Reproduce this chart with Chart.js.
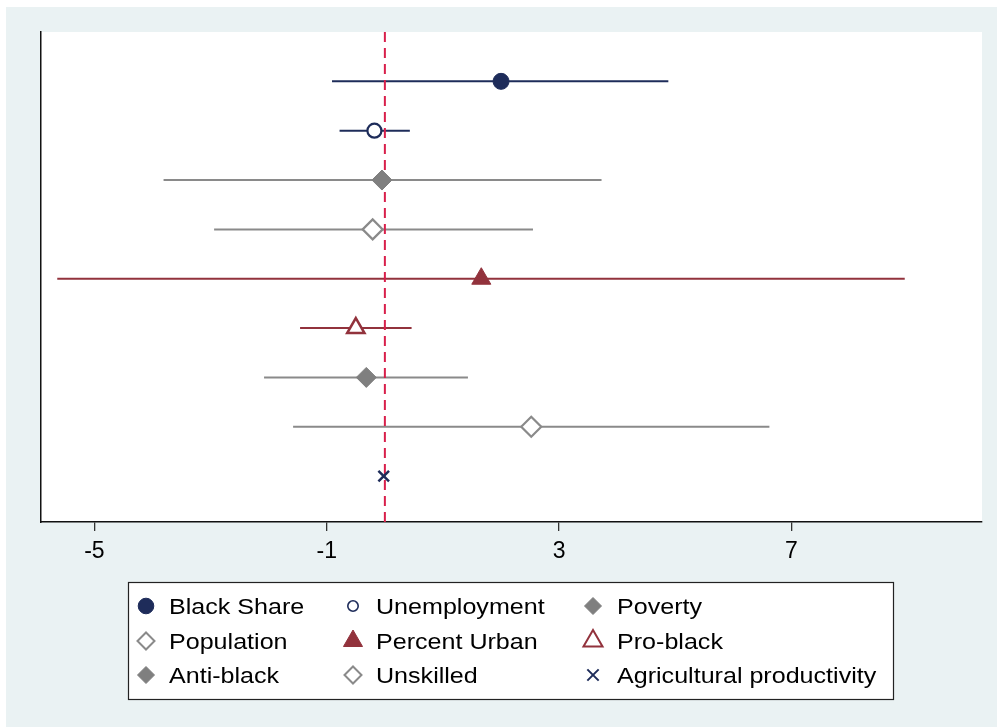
<!DOCTYPE html>
<html>
<head>
<meta charset="utf-8">
<title>Coefficient plot</title>
<script src="https://cdn.jsdelivr.net/npm/chart.js@4/dist/chart.umd.min.js"></script>
<style>
  html, body { margin: 0; padding: 0; background: #ffffff; }
  #wrap { position: absolute; left: 0; top: 0; width: 997px; height: 727px; }
</style>
</head>
<body>
<div id="wrap"><canvas id="coefplot" width="997" height="727"></canvas></div>
<script>
// Regressors, top to bottom
const variables = ['Black Share', 'Unemployment', 'Poverty', 'Population', 'Percent Urban',
                   'Pro-black', 'Anti-black', 'Unskilled', 'Agricultural productivity'];
// Point estimates and confidence bounds
const estimates = [2.00, -0.18, -0.05, -0.21, 1.66, -0.50, -0.32, 2.52, -0.02];
const lowerCI   = [-0.91, -0.78, -3.81, -2.94, -5.64, -1.46, -2.08, -1.58, -0.05];
const upperCI   = [4.88, 0.43, 3.73, 2.55, 8.95, 0.46, 1.43, 6.62, 0.01];
// Horizontal axis labels
const xTicks = [-5, -1, 3, 7];

const NAVY = '#1e2c5a';
const CRAN = '#92323c';
const GRAY = '#8a8a8a';
const GRAY_FILL = '#7f7f7f';
const REF = '#d81f4b';
const BG = '#eaf2f3';

// Marker look for each regressor (plot size, legend size)
const markers = [
  { style: 'circle',    r: 8,   lr: 7.8, fill: NAVY,      stroke: NAVY,      bw: 1,   lbw: 1,   line: NAVY },
  { style: 'circle',    r: 7,   lr: 5.2, fill: '#ffffff', stroke: NAVY,      bw: 2.2, lbw: 1.6, line: NAVY },
  { style: 'rectRot',   r: 10,  lr: 8.5, fill: GRAY_FILL, stroke: GRAY_FILL, bw: 1,   lbw: 1,   line: GRAY },
  { style: 'rectRot',   r: 10,  lr: 8.5, fill: '#ffffff', stroke: GRAY,      bw: 2.2, lbw: 2,   line: GRAY },
  { style: 'triangle',  r: 11,  lr: 11,  fill: CRAN,      stroke: CRAN,      bw: 1,   lbw: 1,   line: CRAN },
  { style: 'triangle',  r: 10,  lr: 11,  fill: '#ffffff', stroke: CRAN,      bw: 2.5, lbw: 2,   line: CRAN },
  { style: 'rectRot',   r: 10,  lr: 8.5, fill: GRAY_FILL, stroke: GRAY_FILL, bw: 1,   lbw: 1,   line: GRAY },
  { style: 'rectRot',   r: 10,  lr: 8.5, fill: '#ffffff', stroke: GRAY,      bw: 2.2, lbw: 2,   line: GRAY },
  { style: 'crossRot',  r: 7.5, lr: 8,   fill: NAVY,      stroke: NAVY,      bw: 2.5, lbw: 2,   line: NAVY }
];

const Y_MAX = 9.93;
const datasets = [];

// Confidence interval bars (behind everything)
variables.forEach((name, i) => {
  datasets.push({
    type: 'line',
    label: name + ' CI',
    data: [{ x: lowerCI[i], y: i + 1 }, { x: upperCI[i], y: i + 1 }],
    borderColor: markers[i].line,
    borderWidth: 2,
    pointRadius: 0,
    fill: false,
    order: 3
  });
});

// Vertical reference line at zero
datasets.push({
  type: 'line',
  label: 'zero',
  data: [{ x: 0, y: 0 }, { x: 0, y: Y_MAX }],
  borderColor: REF,
  borderWidth: 2,
  borderDash: [10, 6],
  pointRadius: 0,
  fill: false,
  order: 2
});

// Point estimates
variables.forEach((name, i) => {
  const m = markers[i];
  datasets.push({
    type: 'scatter',
    label: name,
    data: [{ x: estimates[i], y: i + 1 }],
    pointStyle: m.style,
    pointRadius: m.r,
    pointBackgroundColor: m.fill,
    pointBorderColor: m.stroke,
    pointBorderWidth: m.bw,
    order: 1
  });
});

// Panel backgrounds: page tint and white plot region
const backgroundPlugin = {
  id: 'panelBackground',
  beforeDraw(chart) {
    const { ctx, chartArea: a } = chart;
    ctx.save();
    ctx.fillStyle = '#ffffff';
    ctx.fillRect(0, 0, chart.width, chart.height);
    ctx.fillStyle = BG;
    ctx.fillRect(6, 7, chart.width - 6, chart.height - 7);
    ctx.fillStyle = '#ffffff';
    ctx.fillRect(a.left, a.top, a.right - a.left, a.bottom - a.top);
    ctx.restore();
  }
};

function drawMarker(ctx, m, x, y) {
  const r = m.lr;
  ctx.save();
  ctx.fillStyle = m.fill;
  ctx.strokeStyle = m.stroke;
  ctx.lineWidth = m.lbw;
  ctx.beginPath();
  if (m.style === 'circle') {
    ctx.arc(x, y, r, 0, Math.PI * 2);
    ctx.fill(); ctx.stroke();
  } else if (m.style === 'rectRot') {
    ctx.moveTo(x - r, y); ctx.lineTo(x, y - r); ctx.lineTo(x + r, y); ctx.lineTo(x, y + r);
    ctx.closePath(); ctx.fill(); ctx.stroke();
  } else if (m.style === 'triangle') {
    const h = r * Math.sqrt(3) / 2;
    ctx.moveTo(x, y - r); ctx.lineTo(x + h, y + r / 2); ctx.lineTo(x - h, y + r / 2);
    ctx.closePath(); ctx.fill(); ctx.stroke();
  } else {
    const d = r * Math.SQRT1_2;
    ctx.moveTo(x - d, y - d); ctx.lineTo(x + d, y + d);
    ctx.moveTo(x + d, y - d); ctx.lineTo(x - d, y + d);
    ctx.stroke();
  }
  ctx.restore();
}

// Three-column legend box under the plot
const legendPlugin = {
  id: 'boxLegend',
  afterDraw(chart) {
    const ctx = chart.ctx;
    const box = { x: 128, y: 582, w: 765, h: 117 };
    const markerX = [146, 353, 593];
    const textX = [169, 376, 617];
    const rowY = [606, 641, 675];
    ctx.save();
    ctx.fillStyle = '#ffffff';
    ctx.fillRect(box.x, box.y, box.w, box.h);
    ctx.strokeStyle = '#222222';
    ctx.lineWidth = 1.2;
    ctx.strokeRect(box.x + 0.5, box.y + 0.5, box.w, box.h);
    ctx.font = '22px "Liberation Sans", Arial, sans-serif';
    ctx.fillStyle = '#000000';
    ctx.textBaseline = 'alphabetic';
    variables.forEach((name, i) => {
      const col = i % 3, row = Math.floor(i / 3);
      drawMarker(ctx, markers[i], markerX[col], rowY[row]);
      ctx.save();
      ctx.translate(textX[col], rowY[row] + 7.5);
      ctx.scale(1.14, 1);
      ctx.fillStyle = '#000000';
      ctx.fillText(name, 0, 0);
      ctx.restore();
    });
    ctx.restore();
  }
};

new Chart(document.getElementById('coefplot'), {
  data: { datasets },
  options: {
    responsive: false,
    animation: false,
    devicePixelRatio: 1,
    layout: { padding: { left: 41, top: 32, right: 15, bottom: 145 } },
    plugins: { legend: { display: false }, tooltip: { enabled: false } },
    scales: {
      x: {
        type: 'linear',
        position: 'bottom',
        min: -5.92,
        max: 10.28,
        afterBuildTicks: (axis) => { axis.ticks = xTicks.map(v => ({ value: v })); },
        afterFit: (axis) => { axis.height = 60; },
        ticks: {
          autoSkip: false,
          maxRotation: 0,
          padding: 7,
          color: '#000000',
          font: { family: '"Liberation Sans", Arial, sans-serif', size: 23 },
          callback: (v) => String(v)
        },
        grid: { display: true, drawOnChartArea: false, drawTicks: true, tickLength: 9, color: '#333333', lineWidth: 1.3 },
        border: { display: true, color: '#111111', width: 1.5 }
      },
      y: {
        type: 'linear',
        position: 'left',
        min: 0,
        max: Y_MAX,
        reverse: true,
        afterFit: (axis) => { axis.width = 0; },
        ticks: { display: false },
        grid: { display: false, drawOnChartArea: false, drawTicks: false },
        border: { display: true, color: '#111111', width: 1.5 }
      }
    }
  },
  plugins: [backgroundPlugin, legendPlugin]
});
</script>
</body>
</html>
